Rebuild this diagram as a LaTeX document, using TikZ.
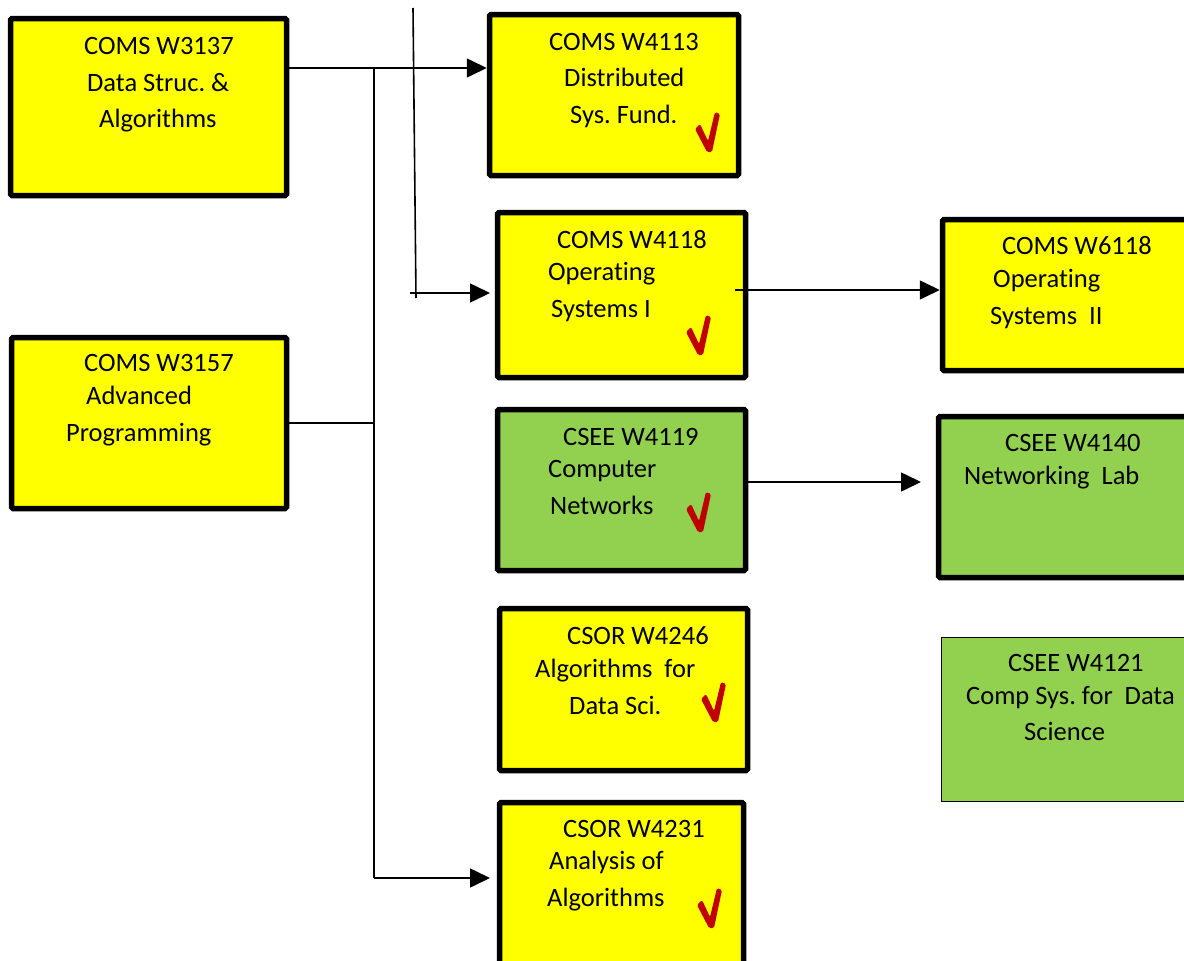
\documentclass[tikz,border=0pt]{standalone}
\usepackage{fontspec}
\setmainfont{Carlito}[Ligatures=CommonOff]
\usetikzlibrary{arrows.meta}
\definecolor{ybox}{RGB}{255,255,0}
\definecolor{gbox}{RGB}{146,208,80}
\definecolor{chkred}{RGB}{192,0,0}
\frenchspacing
\begin{document}
\frenchspacing
\begin{tikzpicture}[x=1pt,y=-1pt,
  box/.style={draw=black, line width=5.5pt, rounded corners=1.5pt, inner sep=0pt},
  thinbox/.style={draw=black, line width=1.5pt, inner sep=0pt},
  txt/.style={anchor=base west, inner sep=0pt, font=\fontsize{26.5}{32}\selectfont},
  conn/.style={line width=1.6pt},
  arr/.style={conn, -{Triangle[length=20pt,width=19pt]}},
  chk/.pic={
    \fill[chkred, rounded corners=1.5pt] (-14,-21) -- (-9,-26) -- (-1,-9) -- (6,-38) -- (11,-36) -- (3,2) -- (-2,2) -- cycle;}
]
\useasboundingbox (0,0) rectangle (1184,961);
\clip (0,0) rectangle (1184,961);
\fill[white] (0,0) rectangle (1184,961);

% boxes
\node[box, fill=ybox, minimum width=276pt, minimum height=177pt] (b1) at (148.5,107) {};
\node[box, fill=ybox, minimum width=275pt, minimum height=171pt] (b2) at (149,423) {};
\node[box, fill=ybox, minimum width=249pt, minimum height=161pt] (b3) at (614,95) {};
\node[box, fill=ybox, minimum width=248pt, minimum height=165pt] (b4) at (621.5,295) {};
\node[box, fill=gbox, minimum width=248pt, minimum height=161pt] (b5) at (621.5,490) {};
\node[box, fill=ybox, minimum width=248pt, minimum height=162pt] (b6) at (623.5,689.5) {};
\node[box, fill=ybox, minimum width=244pt, minimum height=185pt] (b7) at (621.5,895) {};
\node[box, fill=ybox, minimum width=255pt, minimum height=151pt] (b8) at (1070,295) {};
\node[box, fill=gbox, minimum width=259pt, minimum height=161pt] (b9) at (1068,497) {};
\node[thinbox, fill=gbox, minimum width=258pt, minimum height=164pt] (b10) at (1070.5,719.5) {};

% texts
\node[txt] (t1a) at (84,54) {COMS W3137};
\node[txt] (t1b) at (87,91) {Data Struc. \&};
\node[txt] (t1c) at (99,127) {Algorithms};

\node[txt] (t2a) at (84,371) {COMS W3157};
\node[txt] (t2b) at (86,404) {Advanced};
\node[txt] (t2c) at (66,441) {Programming};

\node[txt] (t3a) at (549,50) {COMS W4113};
\node[txt] (t3b) at (564,86) {Distributed};
\node[txt] (t3c) at (570,123) {Sys. Fund.};

\node[txt] (t4a) at (557,248) {COMS W4118};
\node[txt] (t4b) at (548,280) {Operating};
\node[txt] (t4c) at (551,317) {Systems I};

\node[txt] (t5a) at (563,445) {CSEE W4119};
\node[txt] (t5b) at (548,477) {Computer};
\node[txt] (t5c) at (550,514) {Networks};

\node[txt] (t6a) at (567,644) {CSOR W4246};
\node[txt] (t6b) at (535,677) {Algorithms\ \ for};
\node[txt] (t6c) at (569,714) {Data Sci.};

\node[txt] (t7a) at (563,837) {CSOR W4231};
\node[txt] (t7b) at (549,869) {Analysis of};
\node[txt] (t7c) at (547,906) {Algorithms};

\node[txt] (t8a) at (1002,254) {COMS W6118};
\node[txt] (t8b) at (993,287) {Operating};
\node[txt] (t8c) at (990,324) {Systems\ \ II};

\node[txt] (t9a) at (1005,451) {CSEE W4140};
\node[txt] (t9b) at (964,484) {Networking\ \ Lab};

\node[txt] (t10a) at (1008,671) {CSEE W4121};
\node[txt] (t10b) at (966,704) {Comp Sys. for\ \ Data};
\node[txt] (t10c) at (1024,740) {Science};

% check marks
\pic at (709,150) {chk};
\pic at (700,353) {chk};
\pic at (700,530) {chk};
\pic at (715,720) {chk};
\pic at (711,926) {chk};

% connector coordinates
\coordinate (y68) at (0,68);
\coordinate (y423) at (0,423);
\coordinate (y878) at (0,878);
\coordinate (y290) at (0,290);
\coordinate (y482) at (0,482);
\coordinate (j1) at (374,68);
\coordinate (j2) at (374,423);
\coordinate (j3) at (374,878);
\coordinate (v1) at (413,8);
\coordinate (v2) at (416,298);
\coordinate (h1) at (410,293);
\coordinate (h2) at (490,293);
\coordinate (e7) at (490,878);
\coordinate (s4) at (735,290);
\coordinate (e9) at (921,482);

% connectors
\draw[arr] (b1.east |- y68) -- (b3.west |- y68);
\draw[conn] (j1) -- (j3);
\draw[arr] (j3) -- (e7);
\draw[conn] (b2.east |- y423) -- (j2);
\draw[conn] (v1) -- (v2);
\draw[arr] (h1) -- (h2);
\draw[arr] (s4) -- (b8.west |- y290);
\draw[arr] (b5.east |- y482) -- (e9);
\end{tikzpicture}
\end{document}
